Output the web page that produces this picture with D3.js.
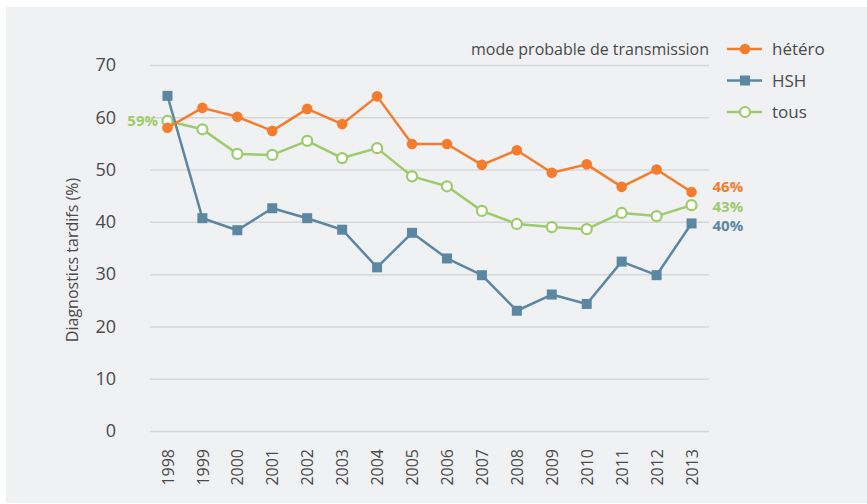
<!DOCTYPE html>
<html>
<head>
<meta charset="utf-8">
<script src="https://cdn.jsdelivr.net/npm/d3@7"></script>
<style>
  body { margin: 0; background: #fff; }
  svg { display: block; }
  text { font-family: "Open Sans", sans-serif; fill: #4a4a4a; }
</style>
</head>
<body>
<svg id="chart"></svg>
<script>
var W = 867, H = 504;
var years = ["1998","1999","2000","2001","2002","2003","2004","2005","2006","2007","2008","2009","2010","2011","2012","2013"];
var hetero = [58.0, 61.8, 60.1, 57.4, 61.6, 58.7, 64.0, 54.9, 54.9, 50.9, 53.7, 49.4, 51.0, 46.7, 50.0, 45.7];
var hsh    = [64.1, 40.7, 38.4, 42.6, 40.7, 38.5, 31.3, 37.9, 33.0, 29.8, 23.0, 26.1, 24.3, 32.4, 29.8, 39.7];
var tous   = [59.3, 57.7, 53.0, 52.8, 55.5, 52.2, 54.1, 48.7, 46.8, 42.1, 39.6, 39.0, 38.6, 41.7, 41.1, 43.2];
var yTicks = [0, 10, 20, 30, 40, 50, 60, 70];
var seriesNames = ["hétéro", "HSH", "tous"];
var endLabels = ["46%", "40%", "43%"];
var startLabel = "59%";

var colors = {"hétéro": "#f47c2c", "HSH": "#5b87a2", "tous": "#9dcb6c"};

var svg = d3.select("#chart").attr("width", W).attr("height", H);

// fond gris
svg.append("rect").attr("x", 6).attr("y", 7).attr("width", W - 6).attr("height", H - 8)
    .attr("fill", "#f0f1f3");

var x = d3.scalePoint().domain(years).range([150, 709]).padding(0.5);
var y = d3.scaleLinear().domain([0, 70]).range([431, 65]);

// grille + axe y
var yAxis = d3.axisLeft(y).tickValues(yTicks).tickSize(-(709 - 150)).tickPadding(34);
var gy = svg.append("g").attr("transform", "translate(150,0)").call(yAxis);
gy.select(".domain").remove();
gy.selectAll("line").attr("stroke", "#d6d7d9").attr("stroke-width", 1.5);
gy.selectAll("text").attr("font-size", 18).attr("fill", "#4a4a4a")
    .style("font-family", "'Open Sans', sans-serif");

// axe x
var xAxis = d3.axisBottom(x).tickSize(0).tickPadding(0);
var gx = svg.append("g").attr("transform", "translate(0,449)").call(xAxis);
gx.select(".domain").remove();
gx.selectAll("text")
    .attr("font-size", 16).attr("fill", "#4a4a4a")
    .style("font-family", "'Open Sans', sans-serif")
    .attr("text-anchor", "end")
    .attr("dy", "0.35em").attr("y", 0).attr("x", 0)
    .attr("transform", "rotate(-90)");

// titre axe y
svg.append("text")
    .attr("transform", "translate(78,260) rotate(-90)")
    .attr("text-anchor", "middle")
    .attr("font-size", 16)
    .text("Diagnostics tardifs (%)");

var line = d3.line()
    .x(function(d, i) { return x(years[i]); })
    .y(function(d) { return y(d); });

function drawLine(data, name) {
    svg.append("path").datum(data)
        .attr("d", line)
        .attr("fill", "none")
        .attr("stroke", colors[name])
        .attr("stroke-width", 2.5)
        .attr("stroke-linejoin", "round");
}
drawLine(tous, "tous");
drawLine(hsh, "HSH");
drawLine(hetero, "hétéro");

// marqueurs
svg.selectAll(".m-tous").data(tous).enter().append("circle")
    .attr("cx", function(d, i) { return x(years[i]); })
    .attr("cy", function(d) { return y(d); })
    .attr("r", 5).attr("fill", "#fff")
    .attr("stroke", colors["tous"]).attr("stroke-width", 2.2);
svg.selectAll(".m-hsh").data(hsh).enter().append("rect")
    .attr("x", function(d, i) { return x(years[i]) - 5; })
    .attr("y", function(d) { return y(d) - 5; })
    .attr("width", 10).attr("height", 10)
    .attr("fill", colors["HSH"]);
svg.selectAll(".m-het").data(hetero).enter().append("circle")
    .attr("cx", function(d, i) { return x(years[i]); })
    .attr("cy", function(d) { return y(d); })
    .attr("r", 5.3).attr("fill", colors["hétéro"]);

// étiquettes de valeur
svg.append("text").attr("x", 158).attr("y", y(tous[0]) + 5)
    .attr("text-anchor", "end").attr("font-size", 15).attr("font-weight", "bold")
    .style("fill", colors["tous"]).text(startLabel);
var last = years[years.length - 1];
var endY = [187, 226, 207];
[hetero, hsh, tous].forEach(function(s, k) {
    svg.append("text").attr("x", x(last) + 21).attr("y", endY[k] + 5)
        .attr("font-size", 15).attr("font-weight", "bold")
        .style("fill", colors[seriesNames[k]]).text(endLabels[k]);
});

// légende
svg.append("text").attr("x", 709).attr("y", 55).attr("text-anchor", "end")
    .attr("font-size", 16).text("mode probable de transmission");
var leg = svg.selectAll(".leg").data(seriesNames).enter().append("g")
    .attr("transform", function(d, i) { return "translate(727," + (49 + i * 31.5) + ")"; });
leg.append("line").attr("x1", 0).attr("x2", 35).attr("y1", 0).attr("y2", 0)
    .attr("stroke", function(d) { return colors[d]; }).attr("stroke-width", 2.5);
leg.each(function(d) {
    var g = d3.select(this);
    if (d === "HSH") {
        g.append("rect").attr("x", 13).attr("y", -5).attr("width", 10).attr("height", 10).attr("fill", colors[d]);
    } else if (d === "tous") {
        g.append("circle").attr("cx", 18).attr("cy", 0).attr("r", 5).attr("fill", "#fff")
            .attr("stroke", colors[d]).attr("stroke-width", 2.2);
    } else {
        g.append("circle").attr("cx", 18).attr("cy", 0).attr("r", 5.3).attr("fill", colors[d]);
    }
});
leg.append("text").attr("x", 45).attr("y", 6).attr("font-size", 17)
    .text(function(d) { return d; });
</script>
</body>
</html>
